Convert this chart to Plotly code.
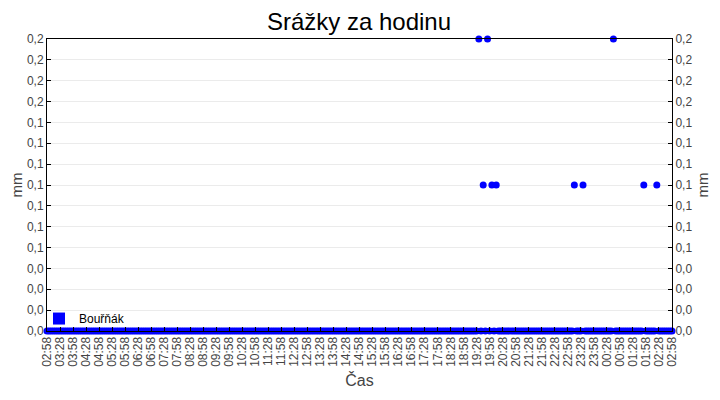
import plotly.graph_objects as go
import pandas as pd

# --- data ---
start_time = "2024-06-15 02:58"
end_time = "2024-06-16 02:58"
step_minutes = 5

rain_times = [
    "2024-06-15 19:33", "2024-06-15 19:43", "2024-06-15 19:53",
    "2024-06-15 20:03", "2024-06-15 20:13", "2024-06-15 23:13",
    "2024-06-15 23:33", "2024-06-16 00:43", "2024-06-16 01:53",
    "2024-06-16 02:23",
]
rain_values = [0.2, 0.1, 0.2, 0.1, 0.1, 0.1, 0.1, 0.2, 0.1, 0.1]

series_name = "Bouřňák"
title_text = "Srážky za hodinu"
y_title = "mm"
x_title = "Čas"
y_max = 0.2
y_intervals = 14

# --- build series ---
times = pd.date_range(start_time, end_time, freq=f"{step_minutes}min")
values = pd.Series(0.0, index=times)
for t, v in zip(pd.to_datetime(rain_times), rain_values):
    values[t] = v

tick_times = pd.date_range(start_time, end_time, freq="30min")
tick_text = [t.strftime("%H:%M") for t in tick_times]

FONT = "Liberation Sans, Arial, sans-serif"
blue = "#0000FF"
fig = go.Figure()
fig.add_trace(go.Scatter(
    x=values.index, y=values.values, mode="markers",
    marker=dict(color=blue, size=7), cliponaxis=False, showlegend=False,
))
fig.add_trace(go.Scatter(
    x=[None], y=[None], mode="markers", name=series_name,
    marker=dict(color=blue, size=12, symbol="square"), showlegend=True,
))
fig.add_trace(go.Scatter(
    x=[times[0]], y=[0], yaxis="y2", mode="markers",
    marker=dict(opacity=0), showlegend=False, hoverinfo="skip",
))

axis_font = dict(family=FONT, size=12, color="#444444")
yaxis_common = dict(
    range=[0, y_max], tick0=0, dtick=y_max / y_intervals, tickformat=".1f",
    ticks="inside", ticklen=4, tickcolor="black", showline=True,
    linecolor="black", linewidth=1, zeroline=False, tickfont=axis_font,
    automargin=False,
    title=dict(text=y_title, font=dict(family=FONT, size=15, color="#444444"), standoff=6),
)

fig.update_layout(
    width=720, height=400,
    margin=dict(l=39, r=56, t=31, b=77),
    paper_bgcolor="white", plot_bgcolor="white",
    separators=", ",
    title=dict(text=title_text, x=0.4875, xanchor="center", y=0.965, yanchor="middle",
               font=dict(family=FONT, size=24, color="black")),
    xaxis=dict(
        type="date", range=[times[0], times[-1]],
        tickvals=tick_times, ticktext=tick_text, tickangle=-90,
        ticks="inside", ticklen=4, tickcolor="black",
        showline=True, linecolor="black", linewidth=1, mirror=True,
        showgrid=False, zeroline=False, tickfont=axis_font, automargin=False,
        title=dict(text=x_title, font=dict(family=FONT, size=16, color="#444444"), standoff=8),
    ),
    yaxis=dict(**yaxis_common, side="left", showgrid=True, gridcolor="#EBEBEB", gridwidth=1),
    yaxis2=dict(**yaxis_common, side="right", overlaying="y", showgrid=False),
    legend=dict(x=-0.0128, y=-0.007, xanchor="left", yanchor="bottom",
                bgcolor="rgba(255,255,255,0)",
                font=dict(family=FONT, size=12, color="black")),
)

fig.write_html("out.html")
